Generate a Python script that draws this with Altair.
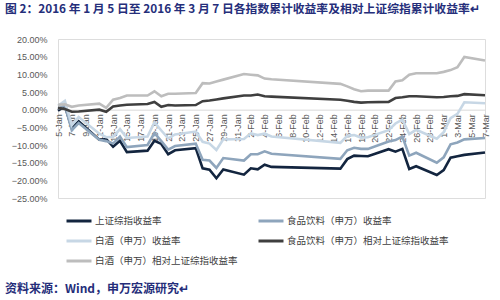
import altair as alt
import pandas as pd

# ---------------- data (cumulative returns, %) ----------------
dates = [
    "2016-01-05", "2016-01-06", "2016-01-07", "2016-01-08", "2016-01-11", "2016-01-12",
    "2016-01-13", "2016-01-14", "2016-01-15", "2016-01-18", "2016-01-19", "2016-01-20",
    "2016-01-21", "2016-01-22", "2016-01-25", "2016-01-26", "2016-01-27", "2016-01-28",
    "2016-01-29", "2016-02-01", "2016-02-02", "2016-02-03", "2016-02-04", "2016-02-05",
    "2016-02-15", "2016-02-16", "2016-02-17", "2016-02-18", "2016-02-19", "2016-02-22",
    "2016-02-23", "2016-02-24", "2016-02-25", "2016-02-26", "2016-02-29", "2016-03-01",
    "2016-03-02", "2016-03-03", "2016-03-04", "2016-03-07",
]

sh_ret = [-0.3, 1.0, -5.2, -3.3, -8.5, -8.3, -10.5, -8.8, -12.0, -11.6, -8.8, -9.7,
          -12.6, -11.5, -10.9, -16.6, -17.0, -19.4, -16.9, -18.4, -16.6, -16.9, -15.6, -16.2,
          -16.7, -14.0, -13.0, -13.1, -13.2, -11.2, -11.9, -11.1, -16.8, -16.0, -18.5, -17.1,
          -13.6, -13.2, -12.8, -12.1]

food_ret = [0.2, 1.2, -5.8, -3.8, -8.5, -8.9, -9.6, -7.6, -10.6, -10.0, -6.6, -8.9,
            -11.3, -10.3, -9.6, -14.2, -14.4, -16.5, -13.7, -14.4, -12.6, -12.6, -11.8, -12.5,
            -13.9, -11.5, -10.8, -11.1, -11.1, -9.0, -8.6, -7.6, -13.0, -12.2, -15.0, -13.5,
            -9.8, -9.3, -8.4, -8.0]

baijiu_ret = [1.1, 2.5, -4.4, -2.1, -6.8, -7.8, -7.7, -5.5, -8.0, -7.6, -3.6, -5.9,
              -8.1, -7.0, -6.2, -9.1, -9.6, -11.4, -8.4, -8.3, -6.7, -7.2, -6.8, -7.6,
              -9.4, -7.4, -7.2, -7.9, -7.8, -5.8, -3.9, -2.8, -6.9, -5.7, -8.2, -6.4,
              -2.4, -1.2, 2.1, 1.8]

food_rel = [0.5, 0.2, -0.6, -0.5, 0.0, -0.6, 0.9, 1.2, 1.4, 1.6, 2.2, 0.8,
            1.3, 1.2, 1.3, 2.4, 2.6, 2.9, 3.2, 4.0, 4.0, 4.3, 3.8, 3.7,
            2.8, 2.5, 2.2, 2.0, 2.1, 2.2, 3.3, 3.5, 3.8, 3.8, 3.5, 3.6,
            3.8, 3.9, 4.4, 4.1]

baijiu_rel = [1.4, 1.5, 0.8, 1.2, 1.7, 0.5, 2.8, 3.3, 4.0, 4.0, 5.2, 3.8,
              4.5, 4.5, 4.7, 7.5, 7.4, 8.0, 8.5, 10.1, 9.9, 9.7, 8.8, 8.6,
              7.3, 6.6, 5.8, 5.2, 5.4, 5.4, 8.0, 8.3, 9.9, 10.3, 10.3, 10.7,
              11.2, 12.0, 14.9, 13.9]

series_names = [
    "上证综指收益率",
    "食品饮料（申万）收益率",
    "白酒（申万）收益率",
    "食品饮料（申万）相对上证综指收益率",
    "白酒（申万）相对上证综指收益率",
]
series_colors = ["#13253F", "#8EA5BC", "#C7D7E5", "#3F3F3F", "#BDBDBD"]
# legend fills column by column: col 1 = SH, 白酒收益率, 白酒相对; col 2 = 食品饮料 ×2
legend_order = [series_names[0], series_names[2], series_names[4],
                series_names[1], series_names[3]]

tick_dates = pd.date_range("2016-01-05", "2016-03-07", freq="2D")
y_ticks = [-0.25, -0.20, -0.15, -0.10, -0.05, 0.0, 0.05, 0.10, 0.15, 0.20]

title_text = "图 2：2016 年 1 月 5 日至 2016 年 3 月 7 日各指数累计收益率及相对上证综指累计收益率↵"
source_text = "资料来源：Wind，申万宏源研究↵"

# ---------------- build table ----------------
frames = []
for name, vals in zip(series_names, [sh_ret, food_ret, baijiu_ret, food_rel, baijiu_rel]):
    frames.append(pd.DataFrame({"date": dates, "value": [v / 100 for v in vals], "series": name}))
df = pd.DataFrame(pd.concat(frames, ignore_index=True))

def ms(d):
    return int(pd.Timestamp(d).value // 10**6)

x_domain = [ms(dates[0]), ms(dates[-1])]
tick_ms = [ms(d) for d in tick_dates]

W, H = 427, 159
y_min, y_max = -0.25, 0.20
axis_offset = -H * (0 - y_min) / (y_max - y_min)

lines = alt.Chart(df).mark_line(strokeWidth=2.6).encode(
    x=alt.X("date:T",
            scale=alt.Scale(type="utc", domain=x_domain),
            axis=alt.Axis(values=tick_ms,
                          labelExpr="utcFormat(datum.value, '%-d-%b')",
                          labelAngle=270, labelFontSize=9, labelColor="#595959",
                          labelFont="Liberation Sans", labelPadding=4,
                          labelOverlap=False, labelFlush=False, labelBound=False,
                          ticks=False, grid=False, domainColor="#D9D9D9",
                          domainWidth=1, offset=axis_offset, title=None)),
    y=alt.Y("value:Q",
            scale=alt.Scale(domain=[y_min, y_max], nice=False, zero=False),
            axis=alt.Axis(values=y_ticks, format=".2%", labelFontSize=9,
                          labelColor="#595959", labelFont="Liberation Sans",
                          labelPadding=11, domain=False, ticks=False, grid=False,
                          title=None)),
    color=alt.Color("series:N",
                    scale=alt.Scale(domain=legend_order,
                                    range=[series_colors[series_names.index(n)] for n in legend_order]),
                    sort=legend_order,
                    legend=alt.Legend(orient="none", legendX=7, legendY=168,
                                      columns=2, symbolType="stroke",
                                      symbolSize=625, symbolStrokeWidth=3,
                                      labelFontSize=9.5, labelFont="Noto Sans CJK SC",
                                      labelColor="#404040", labelOffset=2,
                                      labelLimit=400, padding=0,
                                      columnPadding=14, rowPadding=-10, title=None)),
)

source = alt.Chart(pd.DataFrame({"t": [source_text]})).mark_text(
    align="left", baseline="middle", fontSize=12, fontWeight="bold",
    font="Noto Sans CJK SC", color="#252E7A"
).encode(x=alt.value(-53), y=alt.value(250), text="t:N")

chart = alt.layer(lines, source).properties(
    width=W, height=H,
    autosize=alt.AutoSizeParams(type="none"),
    padding={"left": 58, "top": 39, "right": 15, "bottom": 102},
    title=alt.TitleParams(text=title_text, anchor="start", frame="group",
                          dx=-53, offset=19, fontSize=11.8, fontWeight="bold",
                          font="Noto Sans CJK SC", color="#252E7A"),
).configure_view(stroke=None).configure(background="white")

chart.save("out.html", embed_options={"renderer": "svg", "actions": False})
